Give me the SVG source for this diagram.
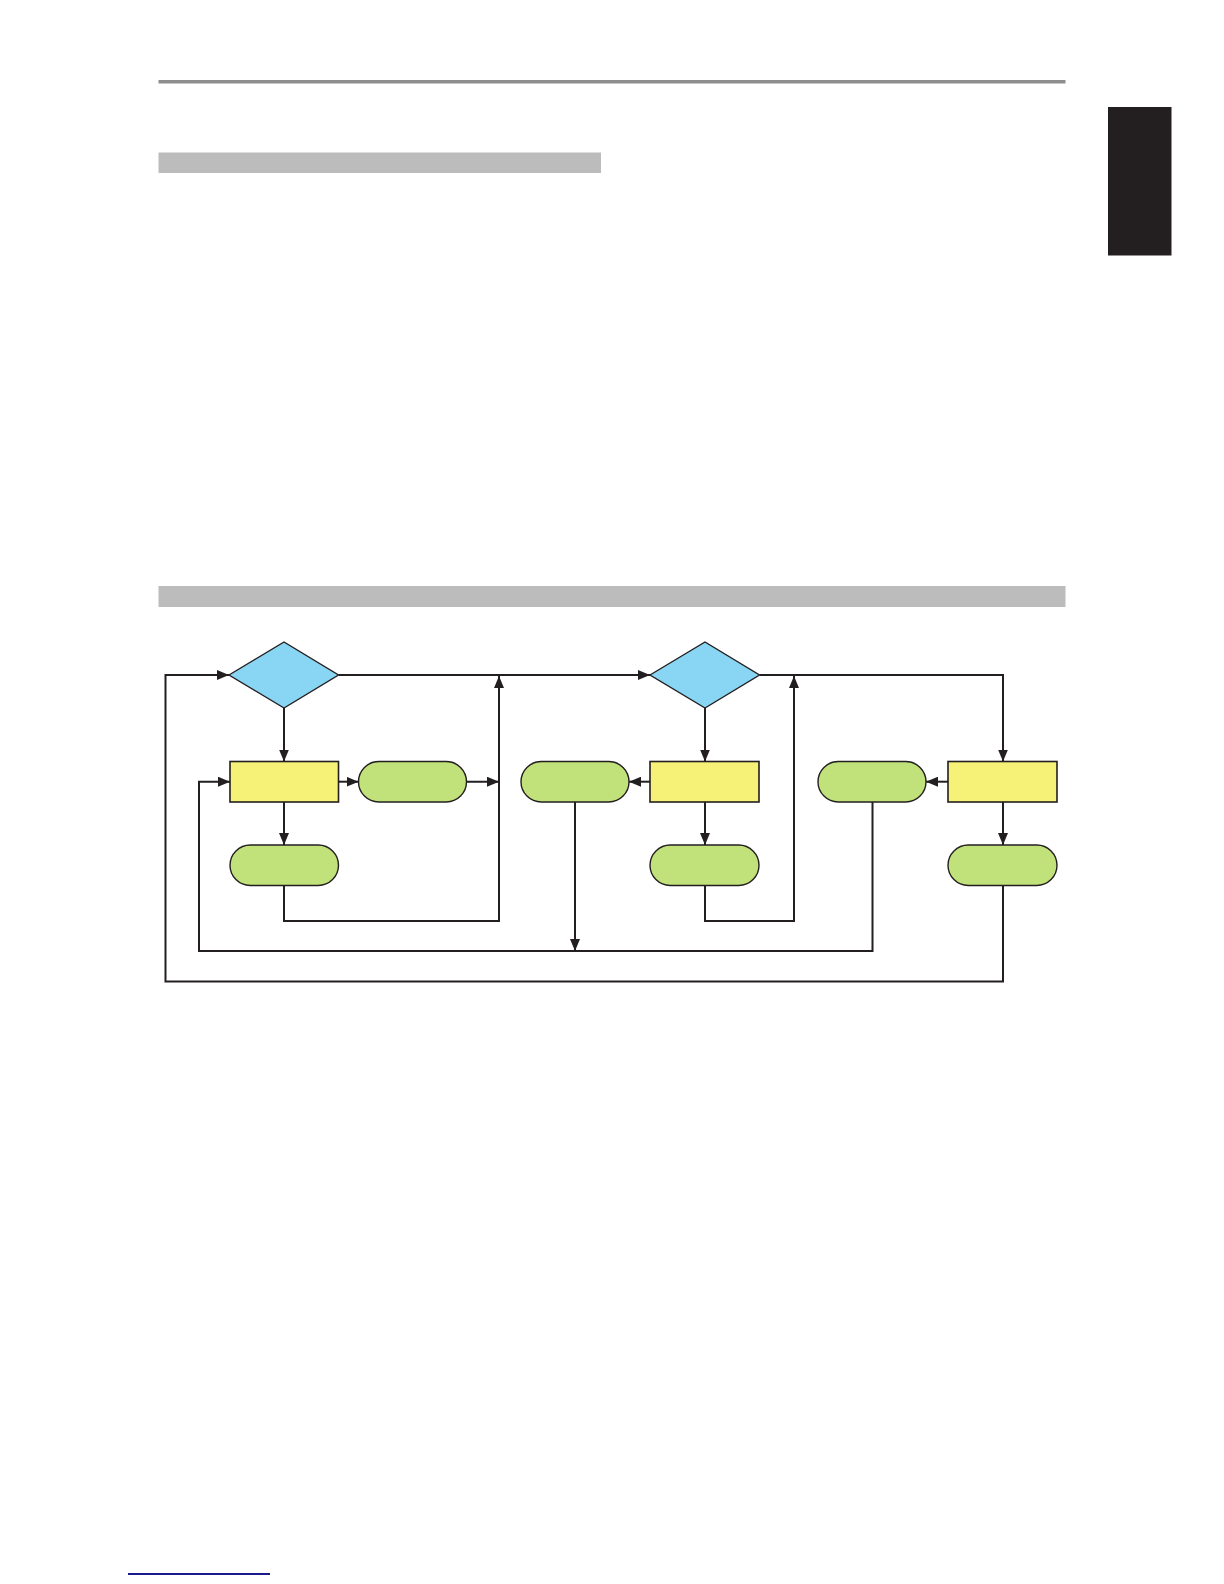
<svg xmlns="http://www.w3.org/2000/svg" width="1224" height="1584" viewBox="0 0 1224 1584">
<style>
.dia{fill:#89d6f4;stroke:#231f20;stroke-width:1.4}
.box{fill:#f6f277;stroke:#231f20;stroke-width:1.6}
.pill{fill:#c1e27a;stroke:#231f20;stroke-width:1.4}
.con{fill:none;stroke:#231f20;stroke-width:2;marker-end:url(#ah)}
</style>
<defs>
<marker id="ah" markerUnits="userSpaceOnUse" markerWidth="12" markerHeight="10" refX="12" refY="5" orient="auto">
<path d="M0,0 L12,5 L0,10 z" fill="#231f20"/>
</marker>
</defs>
<rect width="1224" height="1584" fill="#ffffff"/>
<g id="page-decor">
<rect x="158.5" y="80" width="907" height="3.5" fill="#8e8e8e"/>
<rect x="158.5" y="152.5" width="442.5" height="20.5" fill="#bcbcbc"/>
<rect x="1108" y="107" width="63.5" height="148.5" fill="#231f20"/>
<rect x="158.5" y="586" width="907" height="21" fill="#bcbcbc"/>
<rect x="128" y="1573" width="142" height="2" fill="#1a1a8c"/>
</g>
<g id="connectors">
<path class="con" d="M338.5,675 H650"/>
<path class="con" d="M284,885.5 V921 H499 V676"/>
<path class="con" d="M284,708 V761.5"/>
<path class="con" d="M338.5,781.7 H358.5"/>
<path class="con" d="M466.5,781.7 H499"/>
<path class="con" d="M284,802 V845"/>
<path class="con" d="M1003,885.5 V981.5 H165.5 V675 H229"/>
<path class="con" d="M872.5,802 V951 H199 V781.7 H230"/>
<path class="con" d="M575,802 V951"/>
<path class="con" d="M650,781.7 H629"/>
<path class="con" d="M705,708 V761.5"/>
<path class="con" d="M705,802 V845"/>
<path class="con" d="M705,885.5 V921 H794 V676"/>
<path class="con" d="M759.5,675 H1003 V761.5"/>
<path class="con" d="M948,781.7 H926"/>
<path class="con" d="M1003,802 V845"/>
</g>
<g id="decision1"><polygon class="dia" points="229,675 284,642 338.5,675 284,708"/></g>
<g id="decision2"><polygon class="dia" points="650,675 705,642 759.5,675 705,708"/></g>
<g id="process1"><rect class="box" x="230" y="761.5" width="108.5" height="40.5"/></g>
<g id="process2"><rect class="box" x="650" y="761.5" width="109" height="40.5"/></g>
<g id="process3"><rect class="box" x="948" y="761.5" width="109" height="40.5"/></g>
<g id="state1"><rect class="pill" x="358.5" y="761.5" width="108" height="40.5" rx="20.25"/></g>
<g id="state2"><rect class="pill" x="521" y="761.5" width="108" height="40.5" rx="20.25"/></g>
<g id="state3"><rect class="pill" x="818" y="761.5" width="108" height="40.5" rx="20.25"/></g>
<g id="state4"><rect class="pill" x="230" y="845" width="108.5" height="40.5" rx="20.25"/></g>
<g id="state5"><rect class="pill" x="650" y="845" width="109" height="40.5" rx="20.25"/></g>
<g id="state6"><rect class="pill" x="948" y="845" width="109" height="40.5" rx="20.25"/></g>
</svg>
